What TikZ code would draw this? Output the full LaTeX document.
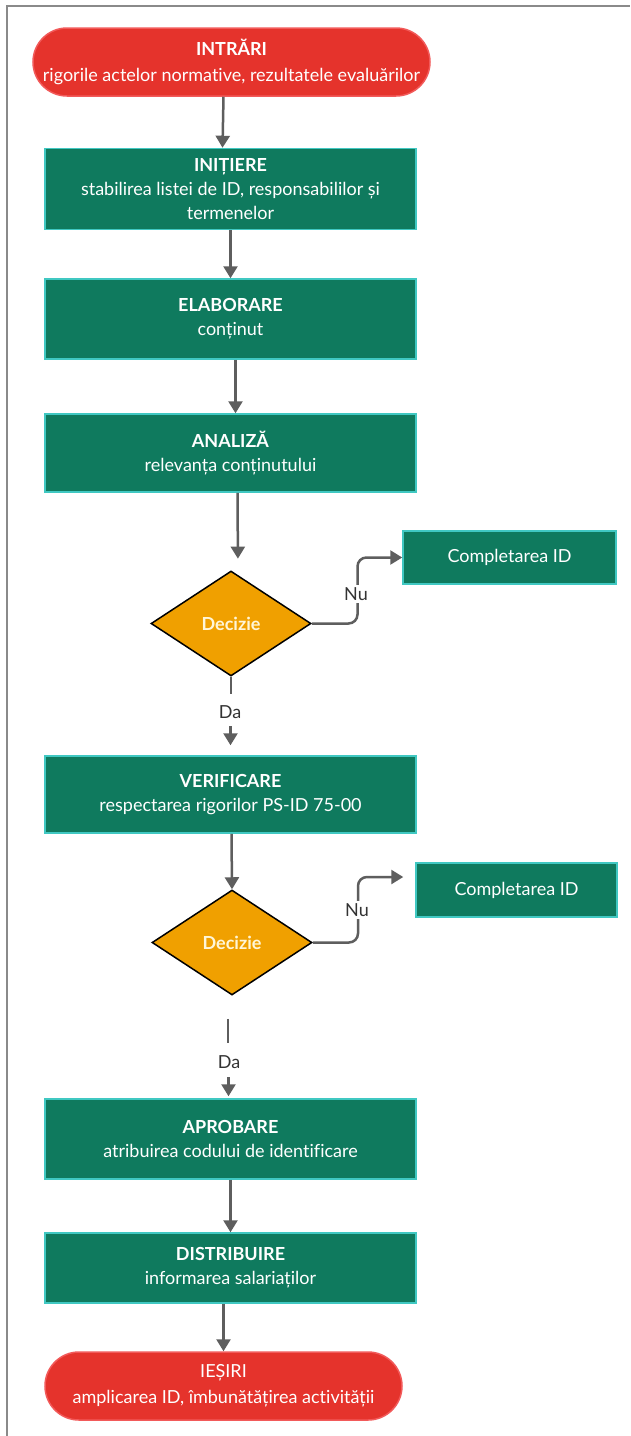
\documentclass[tikz,border=0pt]{standalone}
\usepackage{fontspec}
\setmainfont{Lato}[Ligatures={NoCommon}]
\usetikzlibrary{shapes.geometric,arrows.meta,calc}
\definecolor{grn}{HTML}{0F7A5E}
\definecolor{tealb}{HTML}{40C8C2}
\definecolor{redf}{HTML}{E5332C}
\definecolor{redb}{HTML}{F25A5A}
\definecolor{orf}{HTML}{F0A000}
\definecolor{arrc}{HTML}{5E5E5E}
\definecolor{framec}{HTML}{8A8A8A}
\definecolor{dectxt}{HTML}{FFF6D8}
\begin{document}
\begin{tikzpicture}[x=1pt,y=-1pt,
  font=\fontsize{18}{24}\selectfont,
  box/.style={rectangle, fill=grn, draw=tealb, line width=1.5pt, text=white, align=center, minimum width=371pt, inner sep=0pt},
  smallbox/.style={rectangle, fill=grn, draw=tealb, line width=1.5pt, text=white, align=center, inner sep=0pt},
  pill/.style={rectangle, rounded corners=34pt, fill=redf, draw=redb, line width=1.5pt, text=white, align=center, inner sep=0pt, minimum height=68pt, font=\fontsize{18}{26}\selectfont},
  dec/.style={diamond, fill=orf, draw=black, line width=1.5pt, text=dectxt, inner sep=0pt, minimum width=160pt},
  conn/.style={draw=arrc, line width=2.5pt},
  arr/.style={conn, -{Triangle[width=14pt,length=12pt]}},
  lbl/.style={fill=white, inner sep=2pt, text=black!80}
]
\useasboundingbox (0,0) rectangle (630,1436);
\fill[white] (0,0) rectangle (630,1436);
\draw[framec, line width=1.5pt] (7,1436) -- (7,6) -- (630,6);

\node[pill, minimum width=397pt] (in) at (231.5,62) {\textbf{INTRĂRI}\\rigorile actelor normative, rezultatele evaluărilor};
\node[box, minimum height=81pt] (init) at (230.5,189) {\textbf{INIȚIERE}\\stabilirea listei de ID, responsabililor și\\termenelor};
\node[box, minimum height=80pt] (elab) at (230.5,319) {\textbf{ELABORARE}\\conținut};
\node[box, minimum height=78pt] (anal) at (230.5,453) {\textbf{ANALIZĂ}\\relevanța conținutului};
\node[dec, minimum height=105pt] (dec1) at (231,623.5) {\textbf{Decizie}};
\node[smallbox, minimum width=213pt, minimum height=53pt] (comp1) at (509.5,557.5) {Completarea ID};
\node[box, minimum height=77pt] (verif) at (230.5,794.5) {\textbf{VERIFICARE}\\respectarea rigorilor PS-ID 75-00};
\node[dec, minimum height=105pt] (dec2) at (232,942.5) {\textbf{Decizie}};
\node[smallbox, minimum width=201pt, minimum height=54pt] (comp2) at (516.5,890) {Completarea ID};
\node[box, minimum height=80pt] (aprob) at (230.5,1139) {\textbf{APROBARE}\\atribuirea codului de identificare};
\node[box, minimum height=70pt] (distr) at (230.5,1268) {\textbf{DISTRIBUIRE}\\informarea salariaților};
\node[pill, minimum width=357pt] (out) at (223.5,1386) {IEȘIRI\\amplicarea ID, îmbunătățirea activității};

% main flow
\draw[arr] ([xshift=-8pt]in.south) -- ([xshift=-8pt]init.north);
\draw[arr] (init.south) -- (elab.north);
\draw[arr] ([xshift=5pt]elab.south) -- ([xshift=5pt]anal.north);
\draw[arr] ([xshift=7pt]anal.south) -- ($([xshift=7pt]anal.south)!0.85!([xshift=7pt]dec1.north)$);
\draw[conn] (dec1.south) -- ++(0,17);
\node[lbl] (da1) at (230,712) {Da};
\draw[arr] ($(verif.north)+(0,-29)$) -- ($(verif.north)+(0,-10)$);
\draw[arr] ([xshift=1pt]verif.south) -- (dec2.north);
\draw[conn] ([xshift=-4pt]dec2.south) ++(0,23) -- ++(0,24);
\node[lbl] (da2) at (229,1062) {Da};
\draw[arr] ($(aprob.north)+(-2,-21)$) -- ($(aprob.north)+(-2,-2)$);
\draw[arr] (aprob.south) -- (distr.north);
\draw[arr] ([xshift=-7pt]distr.south) -- (out.north);

% Nu branches
\draw[arr, rounded corners=9pt] (dec1.east) -- (357.5,623.5) -- (357.5,557.5) -- (comp1.west);
\node[lbl] (nu1) at (356,594) {Nu};
\draw[arr, rounded corners=9pt] (dec2.east) -- (358,942.5) -- (358,877) -- ([xshift=-12pt]comp2.west |- 0,877);
\node[lbl] (nu2) at (357,910) {Nu};
\end{tikzpicture}
\end{document}
